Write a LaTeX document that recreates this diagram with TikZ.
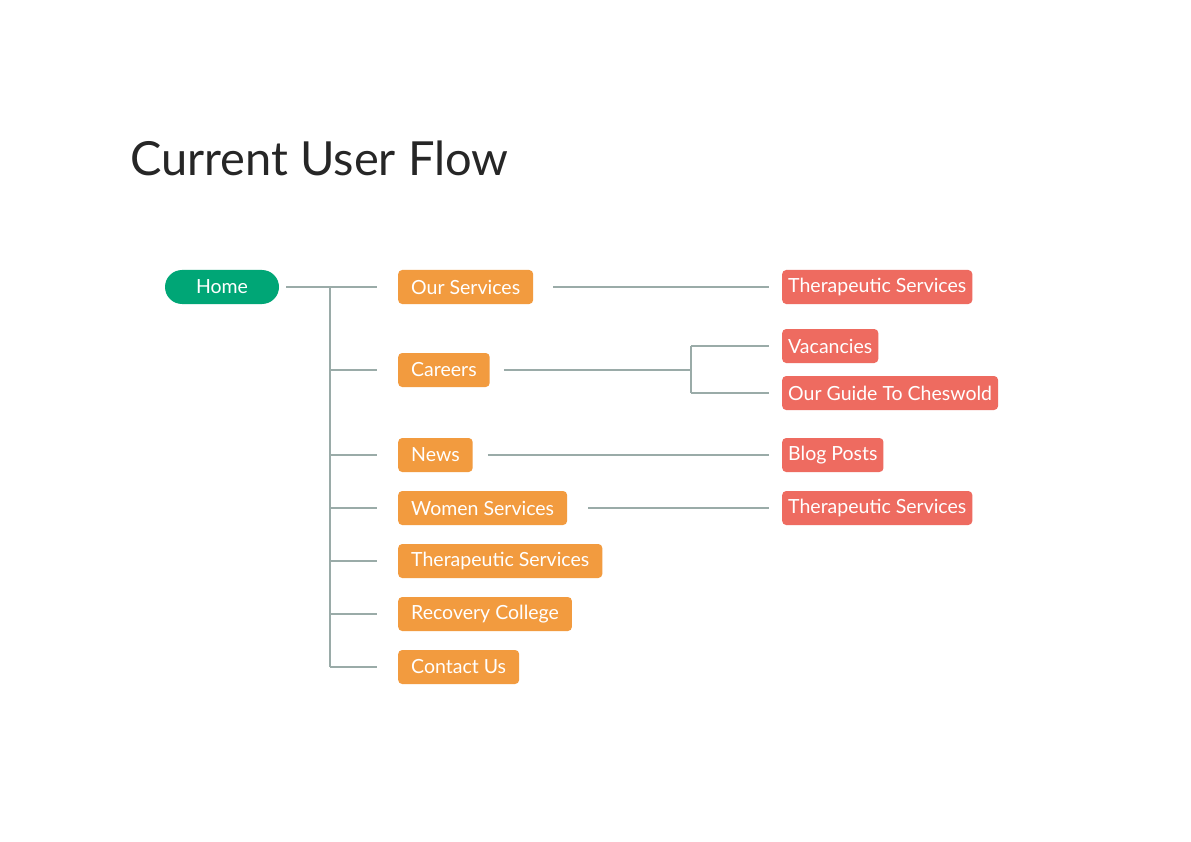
\documentclass[tikz,border=0pt]{standalone}
\usepackage{fontspec}
\setmainfont{Lato}
\definecolor{grn}{HTML}{00A676}
\definecolor{org}{HTML}{F29B3F}
\definecolor{rd}{HTML}{EE6B60}
\definecolor{ln}{HTML}{9AABA8}
\definecolor{ttl}{HTML}{262626}
\begin{document}
\begin{tikzpicture}[x=1pt,y=-1pt,
  box/.style={anchor=west,rounded corners=4pt,minimum height=34pt,text=white,font=\fontsize{19.5}{20}\selectfont,inner ysep=0pt},
  o/.style={box,fill=org,inner xsep=13pt},
  r/.style={box,fill=rd,inner xsep=6pt},
  c/.style={draw=ln,line width=1.2pt}]
\fill[white] (0,0) rectangle (1191,842);
\useasboundingbox (0,0) rectangle (1191,842);
\node[anchor=base west,text=ttl,font=\fontsize{47}{50}\selectfont,inner sep=0pt] (title) at (130,176) {Current User Flow};
\node[box,fill=grn,rounded corners=17pt,minimum width=114pt,anchor=center,inner xsep=0pt] (home) at (222,287) {Home};
\node[o] (os) at (398,287) {Our Services};
\node[o] (car) at (398,370) {Careers};
\node[o] (news) at (398,455) {News};
\node[o] (ws) at (398,508) {Women Services};
\node[o] (ts) at (398,561) {Therapeutic Services};
\node[o] (rc) at (398,614) {Recovery College};
\node[o] (cu) at (398,667) {Contact Us};
\node[r] (r1) at (782,287) {Therapeutic Services};
\node[r] (r2) at (782,346) {Vacancies};
\node[r] (r3) at (782,393) {Our Guide To Cheswold};
\node[r] (r4) at (782,455) {Blog Posts};
\node[r] (r5) at (782,508) {Therapeutic Services};
\coordinate (h0) at (286,287);
\coordinate (t0) at (330,287);
\coordinate (t1) at (330,667);
\foreach \n/\y in {os/287,car/370,news/455,ws/508,ts/561,rc/614,cu/667}
  \draw[c] (330,\y) -- (377,\y);
\draw[c] (h0) -- (t0) -- (t1);
\draw[c] (os.east) ++(20,0) -- (769,287);
\draw[c] (car.east) ++(14,0) -- (691,370);
\draw[c] (691,346) -- (691,393);
\draw[c] (691,346) -- (769,346);
\draw[c] (691,393) -- (769,393);
\draw[c] (news.east) ++(15,0) -- (769,455);
\draw[c] (ws.east) ++(21,0) -- (769,508);
\end{tikzpicture}
\end{document}
